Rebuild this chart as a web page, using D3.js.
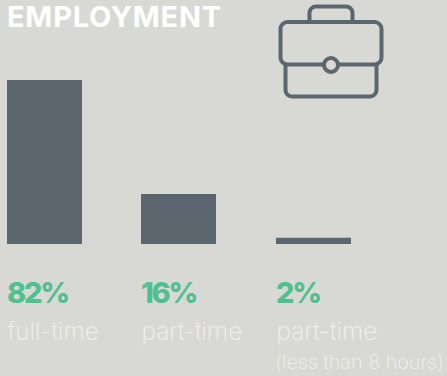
<!DOCTYPE html>
<html>
<head>
<meta charset="utf-8">
<script src="https://cdn.jsdelivr.net/npm/d3@7"></script>
<style>
html,body{margin:0;padding:0;background:#d8d9d4;overflow:hidden}
svg{display:block}
text{font-family:Inter,"Open Sans",sans-serif}
</style>
</head>
<body>
<svg id="chart" width="447" height="376"></svg>
<script>
const titleText = "EMPLOYMENT";
const categories = ["full-time", "part-time", "part-time"];
const shares = [82, 16, 2];
const notes = ["", "", "(less than 8 hours)"];

const slate = "#5c666e", green = "#52bf90", paper = "#d8d9d4", light = "#f1f1ee";
const svg = d3.select("#chart");

const x = d3.scalePoint().domain(d3.range(categories.length)).range([7, 276]);
const barWidth = 75;
const baseline = 244;
// The bar heights are compressed above 16%, so the scale has a knee there.
const y = d3.scaleLinear().domain([0, 16, 82]).range([baseline, 194, 80]);

svg.append("text").text(titleText)
  .attr("x", 7).attr("y", 27)
  .attr("fill", "#fff").attr("font-weight", 700).attr("font-size", 29)
  .attr("letter-spacing", 0.75);

const col = svg.selectAll("g.col").data(shares).join("g").attr("class", "col")
  .attr("transform", (d, i) => `translate(${Math.floor(x(i))},0)`);

col.append("rect")
  .attr("x", 0).attr("width", barWidth)
  .attr("y", d => y(d)).attr("height", d => baseline - y(d))
  .attr("fill", slate);

col.append("text").text(d => d + "%")
  .attr("y", 303).attr("fill", green)
  .attr("font-weight", 800).attr("font-size", 29)
  .attr("letter-spacing", -2.2);

col.append("text").text((d, i) => categories[i])
  .attr("x", 0.5).attr("y", 340).attr("fill", light)
  .attr("font-weight", 200).attr("font-size", 24.4);

col.append("text").text((d, i) => notes[i])
  .attr("x", -0.5).attr("y", 369).attr("fill", light)
  .attr("font-weight", 200).attr("font-size", 19.8);

// Briefcase icon
const icon = svg.append("g").attr("fill", "none").attr("stroke", slate)
  .attr("stroke-width", 4).attr("stroke-linejoin", "round");
icon.append("path").attr("d", "M309.5 22V13a6.5 6.5 0 0 1 6.5-6.5H346a6.5 6.5 0 0 1 6.5 6.5V22");
icon.append("rect").attr("x", 280.5).attr("y", 22).attr("width", 101).attr("height", 42.5).attr("rx", 7);
icon.append("path").attr("d", "M285.5 64.5V90a6.5 6.5 0 0 0 6.5 6.5H370a6.5 6.5 0 0 0 6.5-6.5V64.5");
icon.append("circle").attr("cx", 331).attr("cy", 65).attr("r", 7).attr("fill", paper);
</script>
</body>
</html>
